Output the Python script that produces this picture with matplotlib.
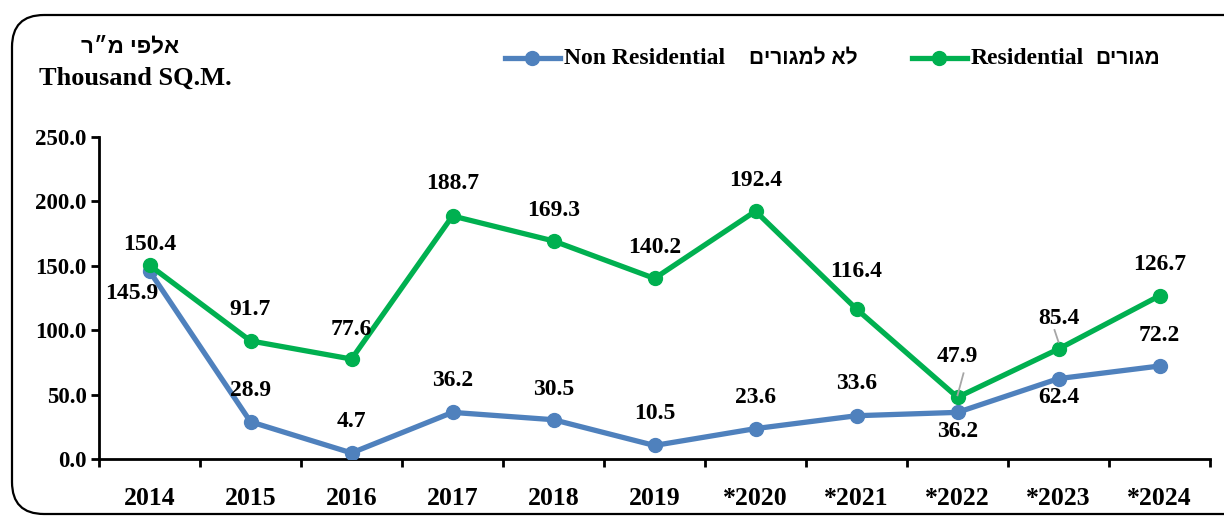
import numpy as np
import matplotlib.pyplot as plt
from matplotlib.patches import FancyBboxPatch

# data
years = ['2014', '2015', '2016', '2017', '2018', '2019',
         '*2020', '*2021', '*2022', '*2023', '*2024']
residential = [150.4, 91.7, 77.6, 188.7, 169.3, 140.2, 192.4, 116.4, 47.9, 85.4, 126.7]
non_residential = [145.9, 28.9, 4.7, 36.2, 30.5, 10.5, 23.6, 33.6, 36.2, 62.4, 72.2]

# label offsets in pixels (dx, dy), dy positive = up
res_off = [(0, 21), (0, 31), (0, 30), (0, 32), (0, 30), (0, 31),
           (0, 31), (0, 38), (0, 41), (0, 31), (0, 31)]
non_off = [(-18, -22), (0, 31), (0, 31), (0, 32), (0, 30), (0, 32),
           (0, 31), (0, 32), (0, -19), (0, -19), (0, 31)]

BLUE = '#4F81BD'
GREEN = '#00B050'
SERIF = ['Liberation Serif', 'DejaVu Serif']
HEB = ['Liberation Sans', 'DejaVu Sans']


def heb(s):
    # matplotlib has no bidi support, so flip the hebrew text by hand
    return s[::-1]


fig = plt.figure(figsize=(12.24, 5.16), dpi=100)

# rounded frame around the whole chart, drawn in pixel space
bg = fig.add_axes([0, 0, 1, 1])
bg.set_xlim(0, 1224)
bg.set_ylim(516, 0)
bg.axis('off')
bg.add_patch(FancyBboxPatch((12, 15), 1260, 499,
                            boxstyle='round,pad=0,rounding_size=32',
                            fc='none', ec='black', lw=1.6))

ax = fig.add_axes([99 / 1224, 1 - 459 / 516, 1111 / 1224, (459 - 137) / 516])
x = np.arange(len(years))
ax.plot(x, non_residential, color=BLUE, lw=3.8, marker='o', ms=10, zorder=3)
ax.plot(x, residential, color=GREEN, lw=3.8, marker='o', ms=10, zorder=4)

ax.set_xlim(-0.5, len(years) - 0.5)
ax.set_ylim(0, 250)
for s in ['top', 'right']:
    ax.spines[s].set_visible(False)
for s in ['left', 'bottom']:
    ax.spines[s].set_linewidth(2)

ax.set_yticks(np.arange(0, 251, 50))
ax.set_yticklabels(['%.1f' % v for v in np.arange(0, 251, 50)],
                   family=SERIF, fontsize=16.5, fontweight='bold')
ax.tick_params(axis='y', direction='out', length=6, width=2, pad=3)
ax.set_xticks(x)
ax.set_xticklabels(years, family=SERIF, fontsize=18.5, fontweight='bold')
ax.set_xticks(np.arange(-0.5, len(years), 1), minor=True)
ax.tick_params(axis='x', which='major', length=0, pad=20)
ax.tick_params(axis='x', which='minor', direction='out', length=6, width=2)

for i in range(len(years)):
    dx, dy = res_off[i]
    ax.annotate('%.1f' % residential[i], (x[i], residential[i]),
                xytext=(dx * 0.72, dy * 0.72), textcoords='offset points',
                ha='center', va='center', family=SERIF, fontsize=17,
                fontweight='bold', zorder=6)
    dx, dy = non_off[i]
    ax.annotate('%.1f' % non_residential[i], (x[i], non_residential[i]),
                xytext=(dx * 0.72, dy * 0.72), textcoords='offset points',
                ha='center', va='center', family=SERIF, fontsize=17,
                fontweight='bold', zorder=6)

# small grey leader lines for 2022 and 2023 (pixel offsets from the point)
leaders = {8: (6, 24, 0, 2), 9: (-4, 19, 0, 7)}
for i, (x0, y0, x1, y1) in leaders.items():
    pt = ax.transData.transform((x[i], residential[i]))
    a = ax.transData.inverted().transform((pt[0] + x0, pt[1] + y0))
    b = ax.transData.inverted().transform((pt[0] + x1, pt[1] + y1))
    ax.plot([a[0], b[0]], [a[1], b[1]], color='#A6A6A6', lw=1.3, zorder=5)

# unit titles
fig.text(130 / 1224, 1 - 47 / 516, heb('אלפי מ״ר'), family=HEB, fontsize=16,
         fontweight='bold', ha='center', va='center')
fig.text(135 / 1224, 1 - 78 / 516, 'Thousand SQ.M.', family=SERIF, fontsize=19,
         fontweight='bold', ha='center', va='center')

# legend drawn by hand to keep the hebrew next to the english
ly = 58
for x0, col, eng, hb, hx in [(505, BLUE, 'Non Residential', 'לא למגורים', 858),
                            (912, GREEN, 'Residential', 'מגורים', 1160)]:
    bg.plot([x0, x0 + 55], [ly, ly], color=col, lw=3.8)
    bg.plot([x0 + 27], [ly], 'o', color=col, ms=10)
    bg.text(x0 + 59, ly, eng, family=SERIF, fontsize=17, fontweight='bold',
            ha='left', va='center')
    bg.text(hx, ly, heb(hb), family=HEB, fontsize=15, fontweight='bold',
            ha='right', va='center')

fig.savefig('out.png', dpi=100)
